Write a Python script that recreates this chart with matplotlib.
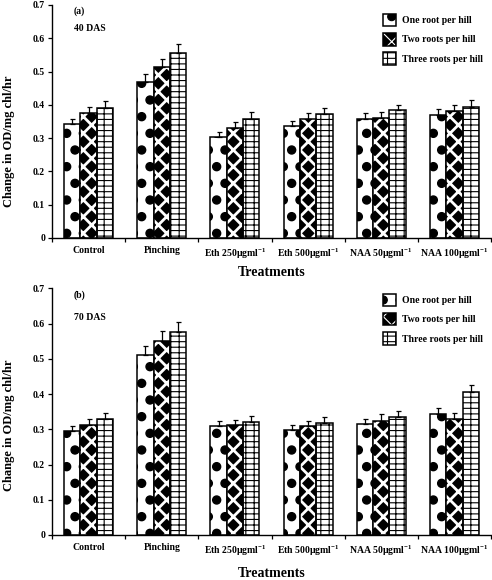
import matplotlib
matplotlib.use('Agg')
import matplotlib.pyplot as plt
import matplotlib.hatch as mhatch
import numpy as np

treatments = ['Control', 'Pinching', 'Eth 250µgml$^{-1}$', 'Eth 500µgml$^{-1}$',
              'NAA 50µgml$^{-1}$', 'NAA 100µgml$^{-1}$']
series = ['One root per hill', 'Two roots per hill', 'Three roots per hill']

# (a) 40 DAS
one_40 = [0.341, 0.469, 0.303, 0.336, 0.358, 0.369]
two_40 = [0.374, 0.513, 0.331, 0.356, 0.361, 0.380]
three_40 = [0.392, 0.556, 0.358, 0.371, 0.383, 0.393]
err_one_40 = [0.017, 0.023, 0.015, 0.015, 0.018, 0.019]
err_two_40 = [0.019, 0.024, 0.017, 0.020, 0.018, 0.020]
err_three_40 = [0.019, 0.027, 0.020, 0.019, 0.018, 0.021]

# (b) 70 DAS
one_70 = [0.295, 0.510, 0.310, 0.298, 0.314, 0.344]
two_70 = [0.312, 0.552, 0.311, 0.310, 0.325, 0.330]
three_70 = [0.329, 0.576, 0.322, 0.319, 0.335, 0.406]
err_one_70 = [0.014, 0.027, 0.015, 0.013, 0.016, 0.017]
err_two_70 = [0.017, 0.026, 0.016, 0.015, 0.018, 0.016]
err_three_70 = [0.017, 0.028, 0.015, 0.017, 0.016, 0.019]

plt.rcParams['font.family'] = ['Liberation Serif', 'DejaVu Serif']
plt.rcParams['font.weight'] = 'bold'
plt.rcParams['mathtext.fontset'] = 'custom'
plt.rcParams['mathtext.rm'] = 'Liberation Serif:bold'
plt.rcParams['mathtext.it'] = 'Liberation Serif:bold'
plt.rcParams['mathtext.bf'] = 'Liberation Serif:bold'

# bigger filled dots for the "one root" pattern
mhatch.SmallFilledCircles.size = 0.24


def hatch_lw(bars, lw):
    for p in bars.patches:
        if hasattr(p, 'set_hatch_linewidth'):
            p.set_hatch_linewidth(lw)


def draw_panel(ax, one, two, three, e1, e2, e3, tag, das, leg_y):
    x = np.arange(len(treatments))
    w = 0.223
    zeros = np.zeros(len(x))

    plt.rcParams['hatch.linewidth'] = 1.0
    b1 = ax.bar(x - w, one, w, color='white', edgecolor='black', linewidth=1.1,
                hatch='.', zorder=2)

    # woven look: black fill with thick white diagonals
    plt.rcParams['hatch.linewidth'] = 2.0
    b2 = ax.bar(x, two, w, color='black', edgecolor='white', linewidth=0,
                hatch='xx', zorder=2)
    hatch_lw(b2, 2.0)
    b2o = ax.bar(x, two, w, fill=False, edgecolor='black', linewidth=1.1, zorder=3)

    plt.rcParams['hatch.linewidth'] = 0.8
    b3 = ax.bar(x + w, three, w, color='white', edgecolor='black', linewidth=1.1,
                hatch='---||', zorder=2)
    hatch_lw(b3, 0.8)

    for off, vals, err in [(-w, one, e1), (0, two, e2), (w, three, e3)]:
        ax.errorbar(x + off, vals, yerr=[zeros, err], fmt='none', ecolor='black',
                    elinewidth=0.9, capsize=1.8, capthick=0.9, zorder=4)

    ax.set_xlim(-0.5, len(x) - 0.5)
    ax.set_ylim(0, 0.7)
    ax.spines['top'].set_visible(False)
    ax.spines['right'].set_visible(False)
    ax.spines['left'].set_linewidth(1.0)
    ax.spines['bottom'].set_linewidth(1.0)

    ax.set_yticks(np.arange(0, 0.71, 0.1))
    ax.set_yticklabels(['0', '0.1', '0.2', '0.3', '0.4', '0.5', '0.6', '0.7'])
    ax.tick_params(axis='y', labelsize=7, length=3, width=0.9, pad=2)

    # ticks between groups, labels under groups
    ax.set_xticks(np.arange(-0.5, len(x), 1.0))
    ax.set_xticklabels([])
    ax.set_xticks(x, minor=True)
    ax.set_xticklabels(treatments, minor=True)
    ax.tick_params(axis='x', which='major', length=3, width=0.9)
    ax.tick_params(axis='x', which='minor', length=0, labelsize=7, pad=6)

    ax.set_xlabel('Treatments', fontsize=10, fontweight='bold')
    ax.set_ylabel('Change in OD/mg chl/hr', fontsize=9, fontweight='bold')

    ax.text(0.05, 0.68, tag, fontsize=7, fontweight='bold', va='center',
            transform=ax.get_yaxis_transform())
    ax.text(0.05, das[1], das[0], fontsize=7, fontweight='bold', va='center',
            transform=ax.get_yaxis_transform())

    handles = [b1.patches[0], (b2.patches[0], b2o.patches[0]), b3.patches[0]]
    ax.legend(handles, series, loc='upper left', bbox_to_anchor=(0.735, leg_y),
              frameon=False, fontsize=7, handlelength=1.3, handleheight=1.6,
              labelspacing=0.7, handletextpad=0.6)


fig = plt.figure(figsize=(4.92, 5.8), dpi=100)
ax1 = fig.add_axes([0.1057, 0.5897, 0.8923, 0.4017])
ax2 = fig.add_axes([0.1057, 0.0776, 0.8923, 0.4250])

draw_panel(ax1, one_40, two_40, three_40, err_one_40, err_two_40, err_three_40,
           '(a)', ('40 DAS', 0.629), 1.0)
draw_panel(ax2, one_70, two_70, three_70, err_one_70, err_two_70, err_three_70,
           '(b)', ('70 DAS', 0.617), 1.015)

ax1.yaxis.set_label_coords(-0.084, 0.416)
ax2.yaxis.set_label_coords(-0.084, 0.446)
ax1.xaxis.set_label_coords(0.5, -0.122)
ax2.xaxis.set_label_coords(0.5, -0.128)

fig.savefig('out.png', dpi=100)
